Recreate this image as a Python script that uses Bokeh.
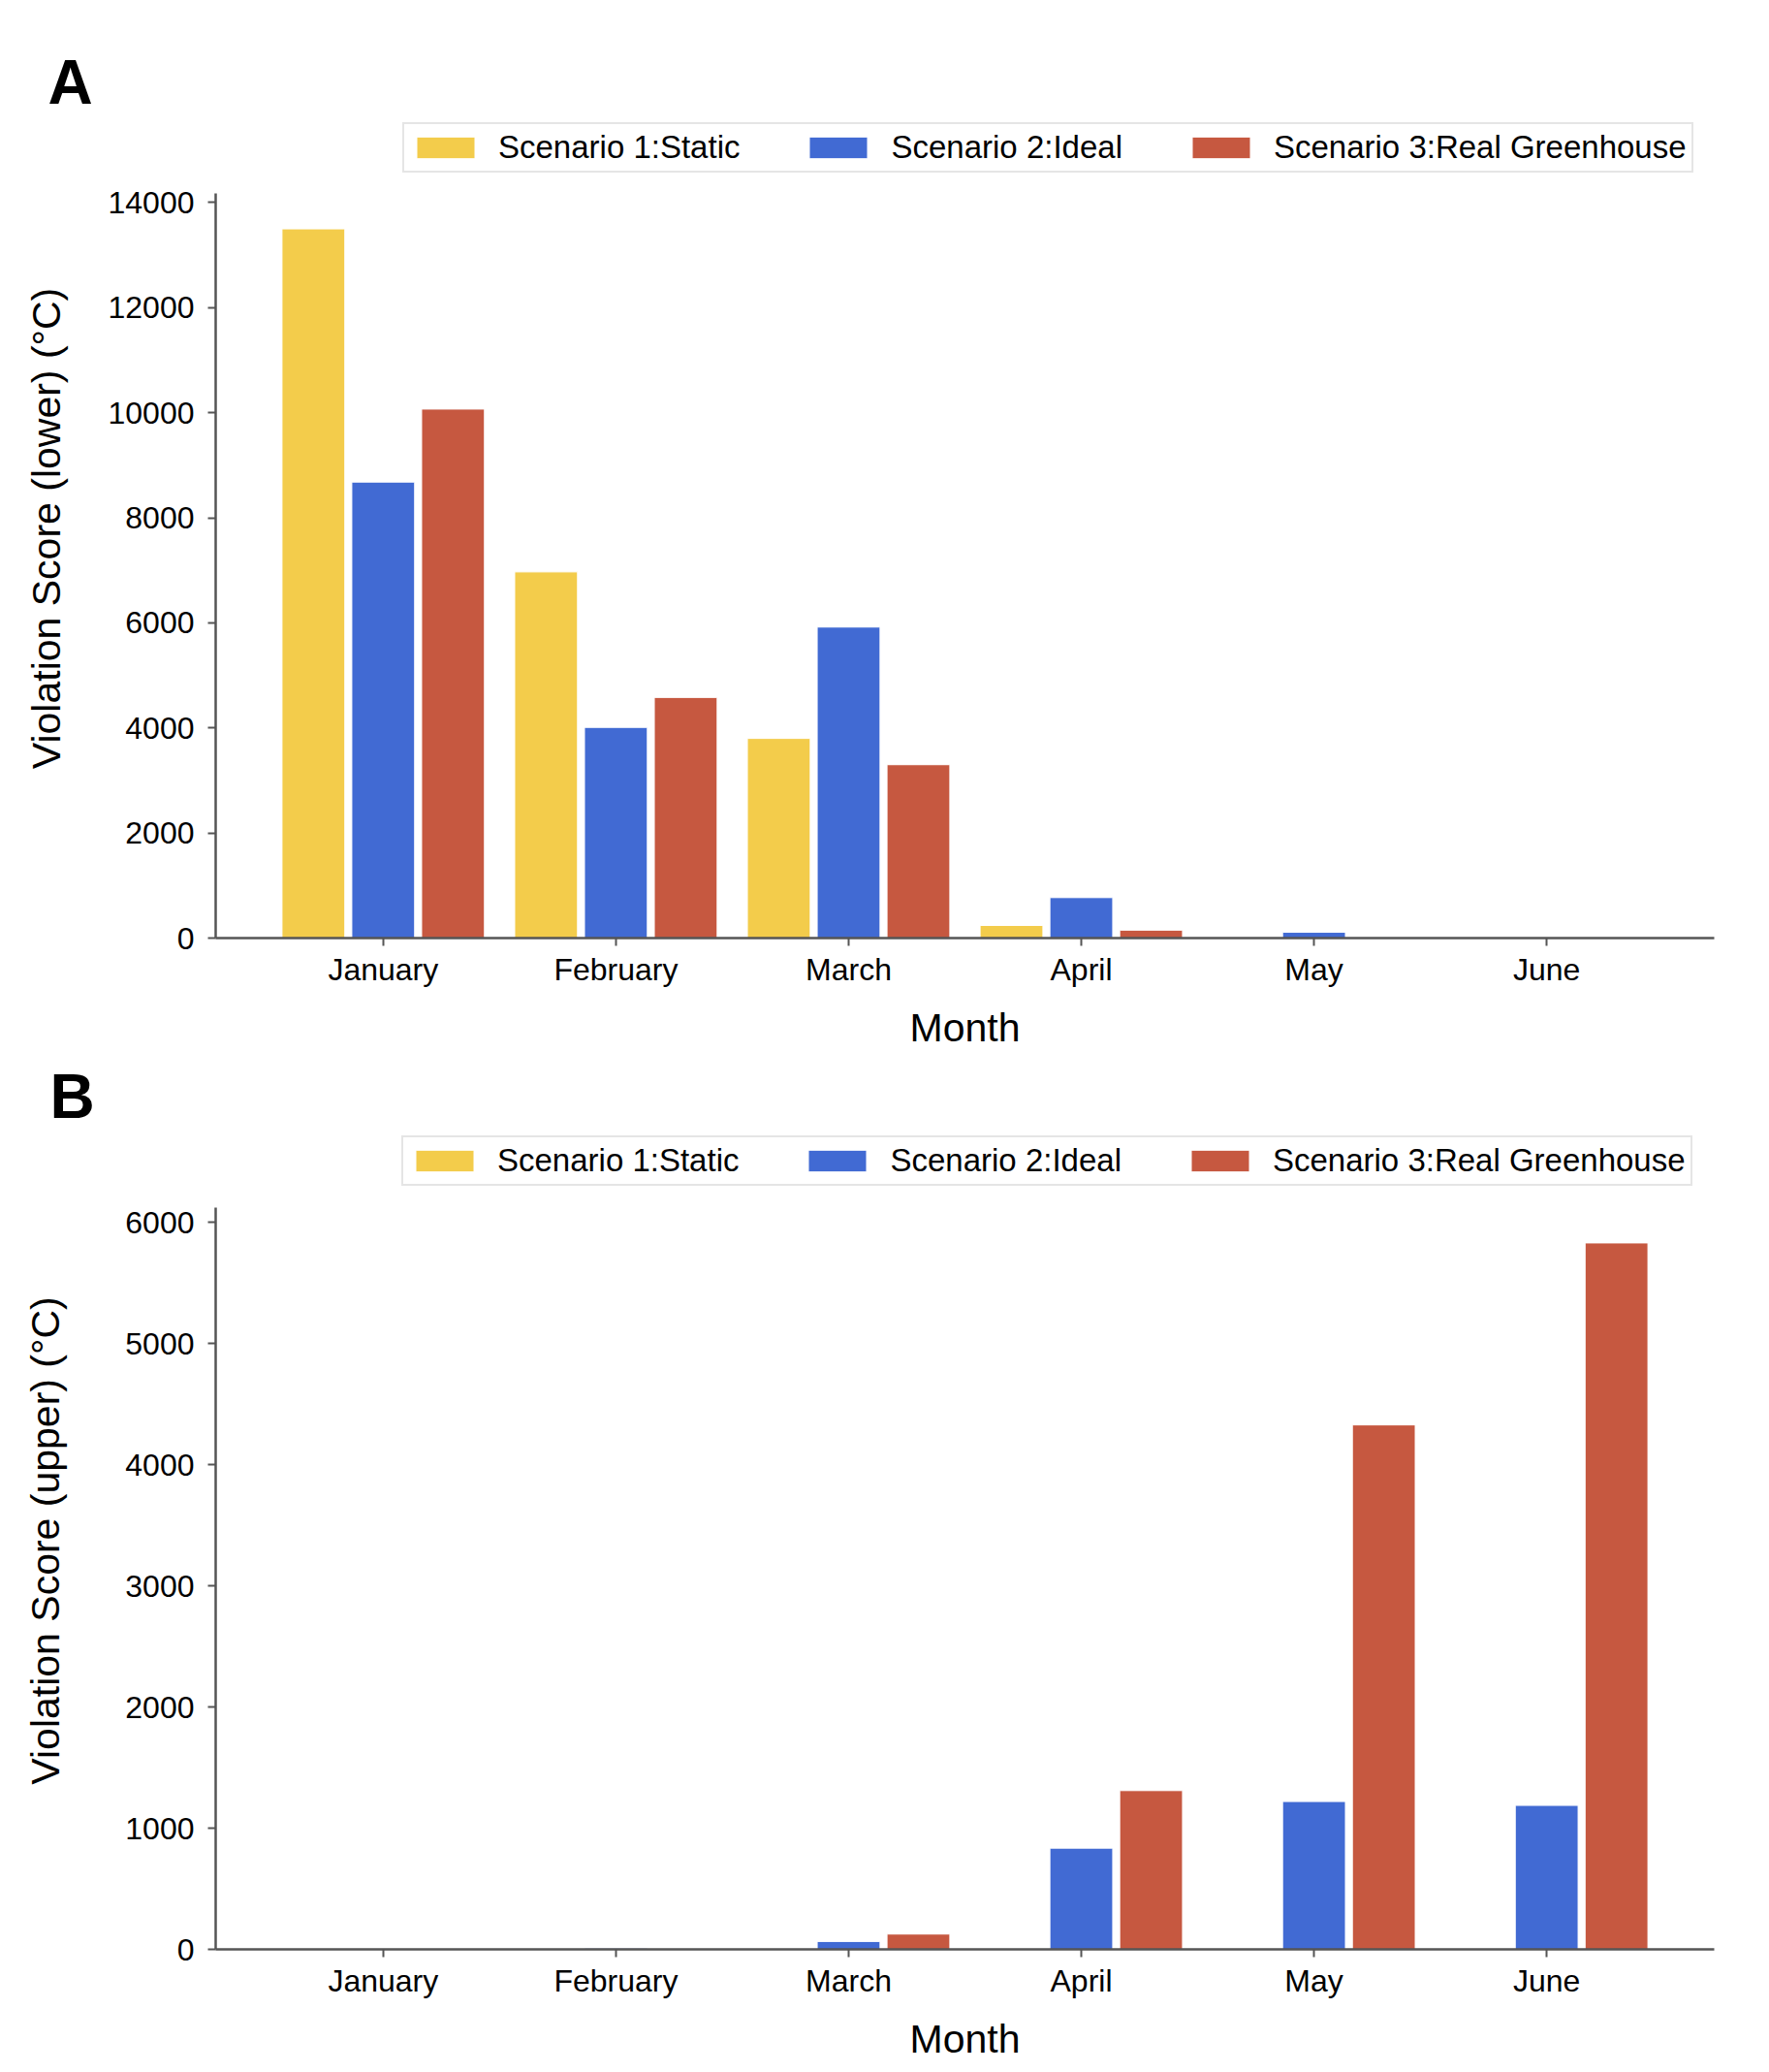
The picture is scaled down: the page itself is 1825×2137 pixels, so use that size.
from bokeh.plotting import figure
from bokeh.models import (ColumnDataSource, FactorRange, Range1d, Legend, LegendItem,
                          FixedTicker, Label)
from bokeh.transform import dodge
from bokeh.layouts import column
from bokeh.embed import file_html
from bokeh.resources import INLINE

# ---------------- data ----------------
months = ["January", "February", "March", "April", "May", "June"]
scenario_names = ["Scenario 1:Static", "Scenario 2:Ideal", "Scenario 3:Real Greenhouse"]
colors = ["#F3CC4B", "#416AD3", "#C65840"]

lower_s1 = [13500, 6970, 3800, 240, 0, 0]
lower_s2 = [8680, 4010, 5920, 770, 110, 0]
lower_s3 = [10070, 4580, 3300, 150, 0, 0]

upper_s1 = [0, 0, 0, 0, 0, 0]
upper_s2 = [0, 10, 65, 835, 1220, 1188]
upper_s3 = [0, 0, 126, 1310, 4328, 5830]

lower_ticks = [0, 2000, 4000, 6000, 8000, 10000, 12000, 14000]
upper_ticks = [0, 1000, 2000, 3000, 4000, 5000, 6000]

FONT = "Liberation Sans"
AXIS_COLOR = "#555555"
W = 1800


def make_header(letter, height, middle_from_bottom, x_left):
    h = figure(width=W, height=height, x_range=Range1d(0, W), y_range=Range1d(0, height),
               x_axis_type=None, y_axis_type=None, title=None,
               output_backend="svg", toolbar_location=None, frame_align=False,
               min_border_left=0, min_border_right=0, min_border_top=0, min_border_bottom=0)
    h.outline_line_color = None
    h.background_fill_color = "white"
    h.border_fill_color = "white"
    h.add_layout(Label(x=x_left, y=middle_from_bottom, x_units="screen", y_units="screen",
                       text=letter, text_font=FONT,
                       text_font_size="64px", text_font_style="bold", text_color="black",
                       text_align="left", text_baseline="middle"))
    return h


def make_panel(s1, s2, s3, ylabel, ticks, frame_top, axis_top, frame_bottom,
               b_left, b_bottom, ylabel_standoff, legend_xy):
    src = ColumnDataSource(dict(month=months, s1=s1, s2=s2, s3=s3))
    ymax = 1.05 * max(max(s1), max(s2), max(s3))
    # the frame reaches above the axis top so the legend can sit inside it
    y_end = ymax * (frame_bottom - frame_top) / (frame_bottom - axis_top)
    p = figure(x_range=FactorRange(factors=months, range_padding=0.22,
                                   range_padding_units="absolute"),
               y_range=Range1d(0, y_end), title=None,
               width=W, height=frame_bottom - frame_top + b_bottom,
               output_backend="svg", toolbar_location=None,
               min_border_left=b_left, min_border_right=W - 1768,
               min_border_top=0, min_border_bottom=b_bottom)
    p.outline_line_color = None
    p.xgrid.grid_line_color = None
    p.ygrid.grid_line_color = None
    p.background_fill_color = "white"
    p.border_fill_color = "white"

    renderers = []
    for key, off, col in zip(["s1", "s2", "s3"], [-0.3, 0.0, 0.3], colors):
        r = p.vbar(x=dodge("month", off, range=p.x_range), top=key, width=0.27,
                   source=src, fill_color=col, line_color="white", line_width=1)
        renderers.append(r)

    for ax in (p.xaxis[0], p.yaxis[0]):
        ax.axis_line_color = AXIS_COLOR
        ax.axis_line_width = 2.5
        ax.major_tick_line_color = AXIS_COLOR
        ax.major_tick_line_width = 2
        ax.major_tick_in = 0
        ax.major_tick_out = 8
        ax.minor_tick_line_color = None
        ax.major_label_text_font = FONT
        ax.major_label_text_font_size = "32px"
        ax.major_label_text_color = "black"
        ax.axis_label_text_font = FONT
        ax.axis_label_text_font_size = "41px"
        ax.axis_label_text_font_style = "normal"
        ax.axis_label_text_color = "black"

    p.yaxis[0].ticker = FixedTicker(ticks=ticks)
    p.yaxis[0].bounds = (0, ymax)
    p.yaxis[0].major_label_standoff = 14
    p.yaxis[0].axis_label = ylabel
    p.yaxis[0].axis_label_standoff = ylabel_standoff
    p.xaxis[0].major_label_standoff = 6
    p.xaxis[0].axis_label = "Month"
    p.xaxis[0].axis_label_standoff = 16

    items = [LegendItem(label=n, renderers=[r]) for n, r in zip(scenario_names, renderers)]
    legend = Legend(items=items, orientation="horizontal", location=legend_xy,
                    glyph_width=75, glyph_height=28, label_standoff=17, spacing=64,
                    padding=5, margin=0,
                    label_text_font=FONT, label_text_font_size="33px",
                    label_text_color="black",
                    border_line_color="#cccccc", border_line_width=2,
                    background_fill_color="white", background_fill_alpha=1.0)
    p.add_layout(legend, "center")
    return p


# Panel A (page px): header 0-122, frame 122-967, axis top 199, frame left 222
hA = make_header("A", 122, 122 - 84, 49)
pA = make_panel(lower_s1, lower_s2, lower_s3, "Violation Score (lower) (°C)", lower_ticks,
                frame_top=122, axis_top=199, frame_bottom=967, b_left=222, b_bottom=125,
                ylabel_standoff=38, legend_xy=(415 - 222, 967 - 178))
# Panel B (page px): header 1092-1167, frame 1167-2010, axis top 1245, frame left 221
hB = make_header("B", 75, 1167 - 1130, 51)
pB = make_panel(upper_s1, upper_s2, upper_s3, "Violation Score (upper) (°C)", upper_ticks,
                frame_top=1167, axis_top=1245, frame_bottom=2010, b_left=221, b_bottom=125,
                ylabel_standoff=56, legend_xy=(413 - 221, 2010 - 1223))

layout = column(hA, pA, hB, pB, spacing=0)
open("out.html", "w").write(file_html(layout, INLINE))
